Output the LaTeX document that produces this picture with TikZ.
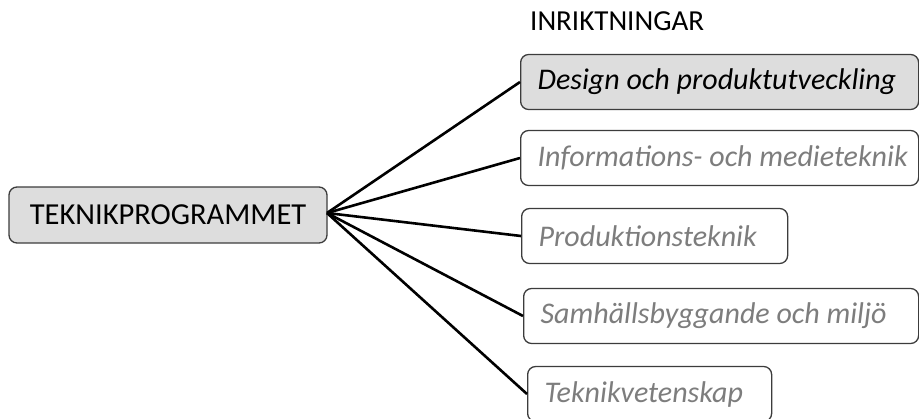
\documentclass[tikz,border=0pt]{standalone}
\usepackage{fontspec}
\setmainfont{Carlito}
\definecolor{boxgray}{RGB}{221,221,221}
\definecolor{txtgray}{RGB}{125,125,125}
\definecolor{edge}{RGB}{60,60,60}
\newcommand{\boxtext}[2]{\makebox[#1][l]{#2}}
\begin{document}
\begin{tikzpicture}[x=1pt,y=-1pt,
  box/.style={draw=edge,line width=1.3pt,rounded corners=8pt,anchor=west,
    minimum height=55pt,inner xsep=17pt,inner ysep=0pt,
    font=\fontsize{30}{34}\selectfont\itshape},
  opt/.style={box,text=txtgray,fill=white},
  sel/.style={box,fill=boxgray,text=black},
  conn/.style={line width=2.6pt,black}]
\useasboundingbox (0,0) rectangle (919,418);
\node[draw=edge,line width=1.3pt,rounded corners=8pt,fill=boxgray,
  minimum width=318pt,minimum height=56pt,inner sep=0pt,
  font=\fontsize{30.5}{35}\selectfont] (main) at (168,215) {TEKNIKPROGRAMMET};
\node[font=\fontsize{29}{34}\selectfont,anchor=west,inner sep=0pt] (head) at (530,21) {INRIKTNINGAR};
\node[sel] (b1) at (520,82) {\boxtext{364pt}{Design och produktutveckling}};
\node[opt] (b2) at (520,158) {\boxtext{364pt}{Informations- och medieteknik}};
\node[opt] (b3) at (521,236) {\boxtext{232pt}{Produktionsteknik}};
\node[opt] (b4) at (523,316) {\boxtext{361pt}{Samhällsbyggande och miljö}};
\node[opt] (b5) at (527,394) {\boxtext{210pt}{Teknikvetenskap}};
\coordinate (hub) at (327,213);
\foreach \b in {b1,b2,b3,b4,b5}{
  \draw[conn] (hub) -- (\b.west);
}
\end{tikzpicture}
\end{document}
